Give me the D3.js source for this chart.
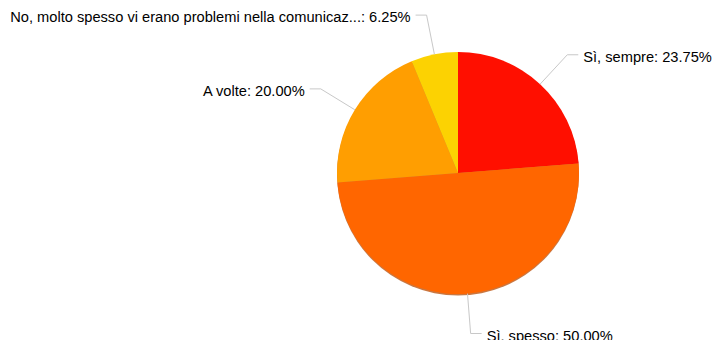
<!DOCTYPE html>
<html>
<head>
<meta charset="utf-8">
<script src="https://cdn.jsdelivr.net/npm/d3@7"></script>
<style>
  html, body { margin: 0; padding: 0; background: #fff; }
  svg { display: block; }
  .lbl { font-family: "Liberation Sans", Arial, sans-serif; font-size: 14.65px; fill: #000; }
</style>
</head>
<body>
<svg id="chart" width="715" height="340"></svg>
<script>
// Survey answers and their shares (percent)
const categories = [
  "Sì, sempre",
  "Sì, spesso",
  "A volte",
  "No, molto spesso vi erano problemi nella comunicaz..."
];
const values = [23.75, 50.00, 20.00, 6.25];
const colors = ["#FF0F00", "#FF6600", "#FF9E01", "#FCD202"];

const width = 715, height = 340;
const cx = 458, cy = 173, radius = 121;
const labelOffset = 40;   // distance of the connector elbow beyond the rim
const tail = 11;          // horizontal connector run
const gap = 5;            // space between connector and text

const data = categories.map((c, i) => ({ category: c, value: values[i], color: colors[i] }));

const svg = d3.select("#chart");

const pie = d3.pie()
  .sort(null)
  .value(d => d.value)
  .startAngle(0)
  .endAngle(2 * Math.PI);

const arcs = pie(data);
const arc = d3.arc().innerRadius(0).outerRadius(radius);

const g = svg.append("g").attr("transform", `translate(${cx},${cy})`);

// soft darker rim under the pie, visible along the lower edge
g.append("circle")
  .attr("cx", 0).attr("cy", 1.5).attr("r", radius)
  .attr("fill", "#b84a00")
  .attr("opacity", 0.75);

g.selectAll("path.slice")
  .data(arcs)
  .enter().append("path")
  .attr("class", "slice")
  .attr("d", arc)
  .attr("fill", d => d.data.color);

// label connectors and texts
const pt = (a, r) => [r * Math.sin(a), -r * Math.cos(a)];

arcs.forEach(d => {
  const mid = (d.startAngle + d.endAngle) / 2;
  const right = Math.sin(mid) >= 0;
  const p0 = pt(mid, radius);
  const p1 = pt(mid, radius + labelOffset);
  const p2 = [p1[0] + (right ? tail : -tail), p1[1]];

  g.append("path")
    .attr("d", d3.line()([p0, p1, p2]))
    .attr("fill", "none")
    .attr("stroke", "#c8c8c8")
    .attr("stroke-width", 1);

  g.append("text")
    .attr("class", "lbl")
    .attr("x", p2[0] + (right ? gap : -gap))
    .attr("y", p1[1] + 7)
    .attr("text-anchor", right ? "start" : "end")
    .text(`${d.data.category}: ${d.data.value.toFixed(2)}%`);
});
</script>
</body>
</html>
